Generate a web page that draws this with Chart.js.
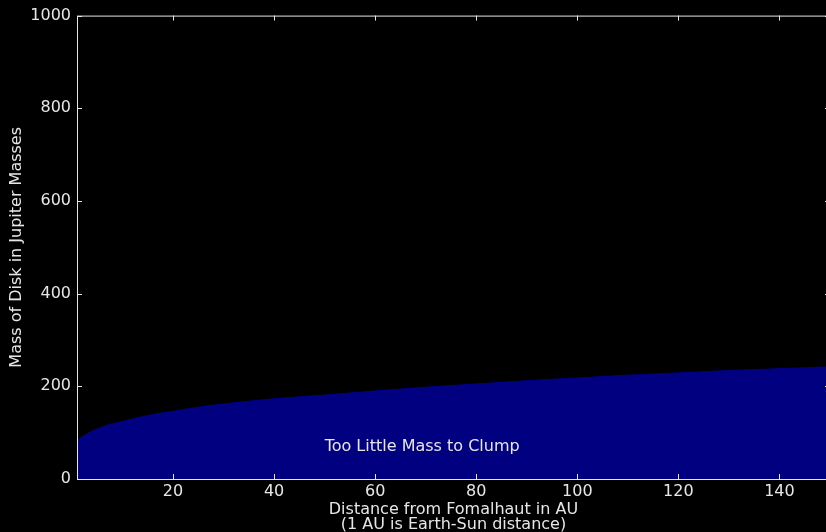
<!DOCTYPE html>
<html>
<head>
<meta charset="utf-8">
<script src="https://cdn.jsdelivr.net/npm/chart.js@4"></script>
<style>
  html, body { margin: 0; padding: 0; background: #000; overflow: hidden; }
  .chart-container { position: relative; width: 832px; height: 532px; }
</style>
</head>
<body>
<div class="chart-container"><canvas id="diskChart"></canvas></div>
<script>
// Dados
const distances = [1, 2, 3, 4, 5, 7, 10, 15, 20, 25, 30, 40, 50, 60, 70, 80, 90, 100, 110, 120, 130, 140, 150];
const diskMass = [82, 91, 97, 103, 108, 116, 124, 137, 146, 155, 162, 173, 181, 190, 198, 205, 212, 218, 224, 229, 234, 238, 242];
const xTicks = [20, 40, 60, 80, 100, 120, 140];
const yTicks = [0, 200, 400, 600, 800, 1000];
const regionLabel = 'Too Little Mass to Clump';
const regionLabelAt = [50, 60];

const textColor = '#e6e6e6';
const fontFamily = '"DejaVu Sans", sans-serif';
const fontSize = 16;

// Moldura, ticks para dentro e texto da região
const framePlugin = {
    id: 'frame',
    afterDatasetsDraw(chart) {
        const ctx = chart.ctx;
        const area = chart.chartArea;
        const x = chart.scales.x;
        const y = chart.scales.y;
        ctx.save();
        ctx.strokeStyle = textColor;
        ctx.lineWidth = 1;
        ctx.strokeRect(area.left + 0.5, area.top + 0.5, area.right - area.left, area.bottom - area.top);
        ctx.beginPath();
        xTicks.forEach(v => {
            const px = Math.round(x.getPixelForValue(v)) + 0.5;
            ctx.moveTo(px, area.bottom); ctx.lineTo(px, area.bottom - 5);
            ctx.moveTo(px, area.top); ctx.lineTo(px, area.top + 5);
        });
        yTicks.forEach(v => {
            const py = Math.round(y.getPixelForValue(v)) + 0.5;
            ctx.moveTo(area.left, py); ctx.lineTo(area.left + 5, py);
            ctx.moveTo(area.right, py); ctx.lineTo(area.right - 5, py);
        });
        ctx.stroke();

        ctx.fillStyle = textColor;
        ctx.font = fontSize + 'px ' + fontFamily;
        ctx.textAlign = 'left';
        ctx.textBaseline = 'alphabetic';
        ctx.fillText(regionLabel, x.getPixelForValue(regionLabelAt[0]), y.getPixelForValue(regionLabelAt[1]));

        // Título do eixo x (duas linhas)
        ctx.textAlign = 'center';
        const cx = (area.left + area.right) / 2;
        ctx.fillText('Distance from Fomalhaut in AU', cx, 514);
        ctx.fillText('(1 AU is Earth-Sun distance)', cx, 529);
        ctx.restore();
    }
};

const config = {
    type: 'line',
    data: {
        datasets: [{
            data: distances.map((d, i) => ({ x: d, y: diskMass[i] })),
            backgroundColor: '#000080',
            borderColor: '#00008b',
            borderWidth: 1,
            fill: 'origin',
            pointRadius: 0,
            cubicInterpolationMode: 'monotone'
        }]
    },
    options: {
        responsive: true,
        maintainAspectRatio: false,
        animation: false,
        layout: { padding: { top: 14, right: 2, left: 0, bottom: 0 } },
        plugins: {
            legend: { display: false },
            tooltip: { enabled: false }
        },
        scales: {
            x: {
                type: 'linear',
                min: 1,
                max: 150,
                afterBuildTicks: scale => { scale.ticks = xTicks.map(v => ({ value: v })); },
                afterFit: scale => { scale.height = 53; },
                grid: { display: false, drawTicks: false },
                border: { display: false },
                ticks: {
                    color: textColor,
                    padding: 3,
                    maxRotation: 0,
                    callback: value => String(value),
                    font: { family: fontFamily, size: fontSize }
                }
            },
            y: {
                min: 0,
                max: 1000,
                afterBuildTicks: scale => { scale.ticks = yTicks.map(v => ({ value: v })); },
                afterFit: scale => { scale.width = 77; },
                grid: { display: false, drawTicks: false },
                border: { display: false },
                title: {
                    display: true,
                    text: 'Mass of Disk in Jupiter Masses',
                    color: textColor,
                    padding: { top: 7, bottom: 0 },
                    font: { family: fontFamily, size: fontSize }
                },
                ticks: {
                    color: textColor,
                    padding: 6,
                    callback: value => String(value),
                    font: { family: fontFamily, size: fontSize }
                }
            }
        }
    },
    plugins: [framePlugin]
};

new Chart(document.getElementById('diskChart'), config);
</script>
</body>
</html>
